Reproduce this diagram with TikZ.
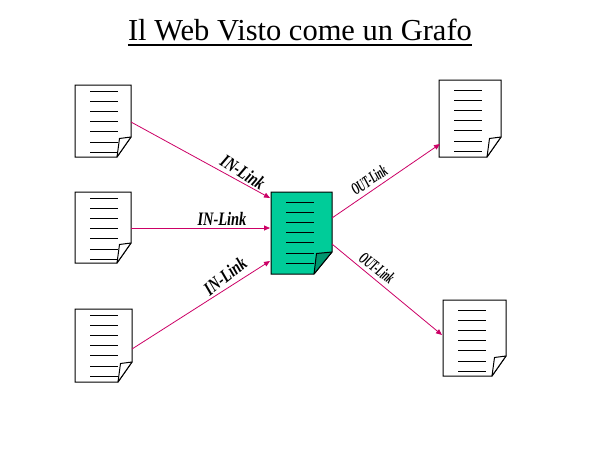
\documentclass[tikz,border=0pt]{standalone}
\usepackage{fontspec}
\setmainfont{Liberation Serif}
\usetikzlibrary{arrows.meta,calc}
\definecolor{linkc}{RGB}{204,0,102}
\definecolor{docgreen}{RGB}{0,204,153}
\definecolor{folddark}{RGB}{0,150,110}
\newcommand\drawdocpage[6]{%
  \draw[docline,fill=#2] (#1.north west) -- (#1.north east) -- ($(#1.south east)+(0,-#5)$) -- ($(#1.south east)+(-#4,0)$) -- (#1.south west) -- cycle;
  \draw[docline,fill=#3,line join=round] ($(#1.south east)+(0,-#5)$) -- ($(#1.south east)+(-#4+2.5,-#5+1.5)$) -- ($(#1.south east)+(-#4,0)$) -- cycle;
  \foreach \i in {0,...,6} \draw[docline] ($(#1.north west)+(15,#6+\i*10.2)$) -- ++(28,0);
}
\tikzset{
  docbox/.style={rectangle,inner sep=0pt,outer sep=0pt,draw=none},
  docline/.style={black,line width=1pt},
  link/.style={linkc,line width=0.8pt,-{Triangle[length=6pt,width=5pt]}},
  inlab/.style={inner sep=0pt,font=\bfseries\itshape\fontsize{19}{19}\selectfont},
  outlab/.style={inner sep=0pt,font=\bfseries\itshape\fontsize{17}{17}\selectfont},
}
\begin{document}
\begin{tikzpicture}[x=1pt,y=-1pt]
\useasboundingbox[fill=white] (0,0) rectangle (600,450);
% title
\node[inner sep=0pt,anchor=base,font=\fontsize{30.5}{30.5}\selectfont] (title) at (300,40) {Il Web Visto come un Grafo};
\draw[line width=1.3pt] ($(title.base west)+(0,5)$) -- ($(title.base east)+(0,5)$);
% documents
\node[docbox,minimum width=56,minimum height=72] (d1) at (103,121) {};
\node[docbox,minimum width=56,minimum height=71] (d2) at (103,227.5) {};
\node[docbox,minimum width=57,minimum height=73] (d3) at (103.5,345.5) {};
\node[docbox,minimum width=61,minimum height=82] (c) at (301.5,233) {};
\node[docbox,minimum width=62,minimum height=77] (o1) at (470,118.5) {};
\node[docbox,minimum width=63,minimum height=76] (o2) at (474.5,338) {};
\drawdocpage{d1}{white}{white}{14}{20}{6}
\drawdocpage{d2}{white}{white}{14}{20}{6}
\drawdocpage{d3}{white}{white}{14}{20}{6}
\drawdocpage{c}{docgreen}{folddark}{18}{22}{10}
\drawdocpage{o1}{white}{white}{14}{20}{10}
\drawdocpage{o2}{white}{white}{14}{20}{10}
% links
\draw[link] ($(d1.north east)+(0,37)$) -- ($(c.north west)+(-1,6)$);
\draw[link] ($(d2.north east)+(0,36)$) -- ($(c.north west)+(-1,36)$);
\draw[link] ($(d3.north east)+(0,40)$) -- ($(c.north west)+(-1,69)$);
\draw[link] ($(c.north east)+(0,26)$) -- ($(o1.north west)+(1,64)$);
\draw[link] ($(c.north east)+(0,52)$) -- ($(o2.north west)+(-1,35)$);
% labels
\node[inlab,rotate=-33] (l1) at (243,172) {\scalebox{0.76}[1]{IN-Link}};
\node[inlab] (l2) at (222,219) {\scalebox{0.76}[1]{IN-Link}};
\node[inlab,rotate=38] (l3) at (225,276) {\scalebox{0.76}[1]{IN-Link}};
\node[outlab,rotate=34] (l4) at (369,180) {\scalebox{0.55}[1]{OUT-Link}};
\node[outlab,rotate=-38] (l5) at (377,268) {\scalebox{0.55}[1]{OUT-Link}};
\end{tikzpicture}
\end{document}
